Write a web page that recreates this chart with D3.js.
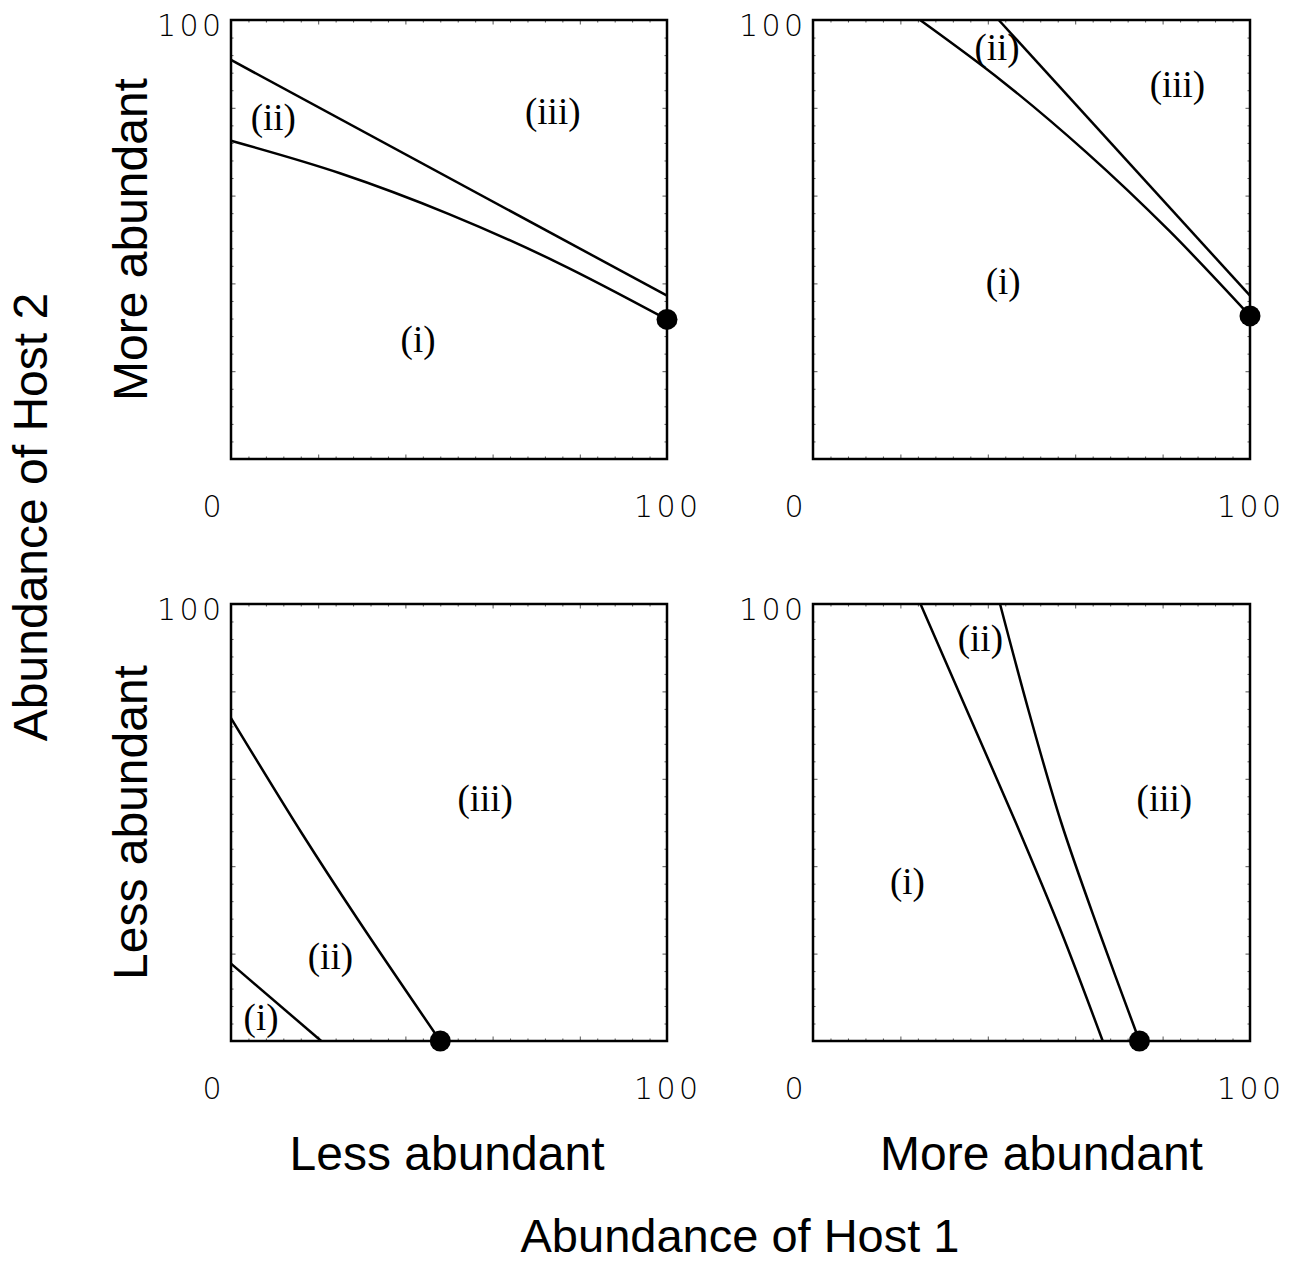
<!DOCTYPE html>
<html>
<head>
<meta charset="utf-8">
<script src="https://cdn.jsdelivr.net/npm/d3@7"></script>
<style>
  body { margin: 0; background: #fff; }
</style>
</head>
<body>
<div id="root"></div>
<script>
// boundary curves as [host 1, host 2] abundance, 0..100
const tlUpper = [[0, 90.9], [100, 37.2]];
const tlLower = [[0, 72.5], [25, 65.1], [50, 55.8], [75, 44.7], [100, 31.8]];
const trUpper = [[42.5, 100], [100, 37.2]];
const trLower = [[24.5, 100], [43.5, 85.9], [62.5, 69.9], [81.5, 52], [100, 32.6]];
const blUpper = [[0, 73.9], [16.2, 47.6], [29.1, 27.8], [48, 0]];
const blLower = [[0, 17.7], [20.7, 0]];
const brLeft = [[24.6, 100], [35.5, 75], [46.4, 50], [56.8, 25], [66.3, 0]];
const brRight = [[42.8, 100], [49.5, 75], [56.8, 50], [65.5, 25], [74.7, 0]];

// equilibrium point, one per panel (tl, tr, bl, br)
const equilibria = [[100, 31.8], [100, 32.6], [48, 0], [74.7, 0]];

// region labels (i), (ii), (iii) per panel
const regionNames = ['(i)', '(ii)', '(iii)'];
const tlRegions = [[42.9, 26.4], [9.7, 77.0], [73.8, 78.4]];
const trRegions = [[43.5, 39.5], [42.1, 93.0], [83.4, 84.4]];
const blRegions = [[6.9, 4.6], [22.8, 18.6], [58.3, 54.7]];
const brRegions = [[21.6, 35.7], [38.3, 91.2], [80.4, 54.7]];

const rowLabels = ['More abundant', 'Less abundant'];
const colLabels = ['Less abundant', 'More abundant'];
const yTitle = 'Abundance of Host 2';
const xTitle = 'Abundance of Host 1';
const tickLabels = ['0', '100'];
const majorTicks = [20, 40, 60, 80];
const minorTicks = d3.range(4, 100, 4).filter(v => v % 20 !== 0);

// layout
const panels = [
    { left: 231, top: 20, w: 436, h: 439, curves: [tlUpper, tlLower], regions: tlRegions },
    { left: 813, top: 20, w: 437, h: 439, curves: [trUpper, trLower], regions: trRegions },
    { left: 231, top: 604, w: 436, h: 437, curves: [blUpper, blLower], regions: blRegions },
    { left: 813, top: 604, w: 437, h: 437, curves: [brLeft, brRight], regions: brRegions },
];

const sans = '"Liberation Sans", Arial, Helvetica, sans-serif';
const serif = '"Liberation Serif", "Times New Roman", serif';
const numFont = '"DejaVu Sans", sans-serif';

function render() {
    let svg = d3.select('#root').append('svg')
        .attr('width', 1295)
        .attr('height', 1263);

    panels.forEach((p, i) => drawPanel(svg, p, i));

    // row labels (rotated) and column labels
    rowLabels.forEach((t, r) => {
        let p = panels[r * 2];
        svg.append('text')
            .attr('transform', `translate(147,${p.top + p.h / 2}) rotate(-90)`)
            .attr('text-anchor', 'middle')
            .style('font', `48px ${sans}`)
            .text(t);
    });
    colLabels.forEach((t, c) => {
        let p = panels[2 + c];
        svg.append('text')
            .attr('x', p.left + p.w / 2 + (c === 1 ? 10 : -2))
            .attr('y', 1170)
            .attr('text-anchor', 'middle')
            .style('font', `48px ${sans}`)
            .text(t);
    });

    svg.append('text')
        .attr('transform', 'translate(47,517) rotate(-90)')
        .attr('text-anchor', 'middle')
        .style('font', `48px ${sans}`)
        .text(yTitle);
    svg.append('text')
        .attr('x', 740)
        .attr('y', 1252)
        .attr('text-anchor', 'middle')
        .style('font', `47px ${sans}`)
        .text(xTitle);
}

function drawPanel(svg, p, i) {
    let x = d3.scaleLinear().domain([0, 100]).range([p.left, p.left + p.w]);
    let y = d3.scaleLinear().domain([0, 100]).range([p.top + p.h, p.top]);
    let g = svg.append('g');

    // ticks on all four sides, pointing inward
    let sides = [
        [d3.axisBottom(x), `translate(0,${y(0)})`],
        [d3.axisTop(x), `translate(0,${y(100)})`],
        [d3.axisLeft(y), `translate(${x(0)},0)`],
        [d3.axisRight(y), `translate(${x(100)},0)`],
    ];
    sides.forEach(([axis, tr]) => {
        [[majorTicks, 4.5], [minorTicks, 2.5]].forEach(([vals, len]) => {
            let a = g.append('g')
                .attr('transform', tr)
                .call(axis.tickValues(vals).tickSize(-len).tickFormat(''));
            a.select('.domain').remove();
            a.selectAll('line').attr('stroke', '#555').attr('stroke-width', 1);
        });
    });

    g.append('rect')
        .attr('x', x(0))
        .attr('y', y(100))
        .attr('width', x(100) - x(0))
        .attr('height', y(0) - y(100))
        .attr('fill', 'none')
        .attr('stroke', '#000')
        .attr('stroke-width', 2.5);

    let line = d3.line()
        .x(d => x(d[0]))
        .y(d => y(d[1]))
        .curve(d3.curveCatmullRom);

    g.selectAll('path.curve')
        .data(p.curves)
        .enter().append('path')
        .attr('class', 'curve')
        .attr('d', line)
        .attr('fill', 'none')
        .attr('stroke', '#000')
        .attr('stroke-width', 2.5);

    g.append('circle')
        .attr('cx', x(equilibria[i][0]))
        .attr('cy', y(equilibria[i][1]))
        .attr('r', 10.5)
        .attr('fill', '#000');

    g.selectAll('text.region')
        .data(p.regions)
        .enter().append('text')
        .attr('class', 'region')
        .attr('x', d => x(d[0]))
        .attr('y', d => y(d[1]))
        .attr('dy', '0.24em')
        .attr('text-anchor', 'middle')
        .style('font', `37px ${serif}`)
        .text((d, k) => regionNames[k]);

    // tick numbers: 100 at top of y axis, 0 and 100 well below x axis
    let num = sel => sel
        .style('font-family', numFont)
        .style('font-size', '30px')
        .style('font-weight', 200);
    g.append('text')
        .attr('x', x(0) - 74)
        .attr('y', y(100) + 16)
        .attr('textLength', 64)
        .attr('lengthAdjust', 'spacing')
        .call(num)
        .text(tickLabels[1]);
    g.append('text')
        .attr('x', x(0) - 19)
        .attr('y', y(0) + 58)
        .attr('text-anchor', 'middle')
        .call(num)
        .text(tickLabels[0]);
    g.append('text')
        .attr('x', x(100) - 33)
        .attr('y', y(0) + 58)
        .attr('textLength', 64)
        .attr('lengthAdjust', 'spacing')
        .call(num)
        .text(tickLabels[1]);
}

render();
</script>
</body>
</html>
